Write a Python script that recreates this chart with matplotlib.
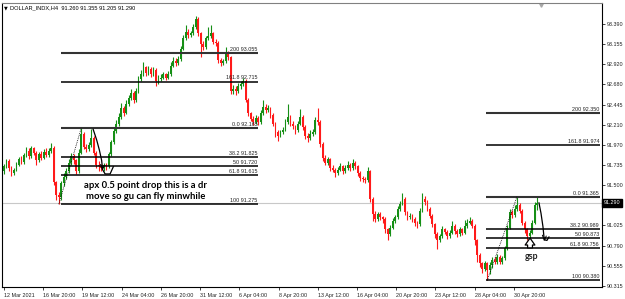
import matplotlib
matplotlib.use('Agg')
import numpy as np
import matplotlib.pyplot as plt

# --- data: DOLLAR_INDX H4 candles ---
first_open = 91.66
closes = [
    91.72, 91.78, 91.70, 91.64, 91.68, 91.74, 91.80, 91.77, 91.85, 91.90,
    91.84, 91.93, 91.88, 91.79, 91.86, 91.82, 91.89, 91.85, 91.90, 91.94,
    91.53, 91.38, 91.36, 91.52, 91.60, 91.66, 91.76, 91.84, 91.79, 91.66,
    91.88, 92.10, 91.95, 91.92, 91.97, 92.05, 91.88, 91.74, 91.72, 91.70,
    91.73, 91.72, 91.86, 92.00, 92.13, 92.22, 92.30, 92.40, 92.35, 92.45,
    92.52, 92.58, 92.50, 92.60, 92.74, 92.80, 92.88, 92.82, 92.86, 92.80,
    92.85, 92.72, 92.75, 92.76, 92.80, 92.76, 92.80, 92.90, 92.96, 92.93,
    92.98, 93.10, 93.22, 93.30, 93.26, 93.28, 93.35, 93.45, 93.28, 93.16,
    93.12, 93.22, 93.25, 93.28, 93.18, 93.17, 92.97, 92.93, 92.95, 93.04,
    93.00, 92.60, 92.63, 92.60, 92.66, 92.68, 92.72, 92.50, 92.34, 92.28,
    92.24, 92.29, 92.24, 92.34, 92.42, 92.38, 92.40, 92.32, 92.22, 92.12,
    92.08, 92.12, 92.15, 92.24, 92.30, 92.22, 92.19, 92.14, 92.22, 92.30,
    92.18, 92.08, 92.05, 92.10, 92.12, 92.26, 92.24, 91.98, 91.82, 91.76,
    91.80, 91.70, 91.68, 91.64, 91.68, 91.72, 91.66, 91.70, 91.74, 91.70,
    91.76, 91.72, 91.64, 91.58, 91.57, 91.56, 91.66, 91.34, 91.16, 91.10,
    91.16, 91.12, 91.10, 90.98, 90.92, 91.00, 91.08, 91.12, 91.22, 91.28,
    91.34, 91.18, 91.12, 91.14, 91.10, 91.06, 91.04, 91.20, 91.34, 91.30,
    91.22, 91.14, 91.04, 90.92, 90.86, 90.90, 90.98, 90.95, 90.90, 90.94,
    91.02, 90.96, 90.92, 90.98, 90.94, 91.02, 91.06, 91.08, 91.02, 90.85,
    90.68, 90.58, 90.52, 90.58, 90.50, 90.56, 90.62, 90.60, 90.66, 90.60,
    90.64, 90.76, 91.00, 91.18, 91.15, 91.22, 91.26, 91.20, 91.06, 90.98,
    90.90, 90.94, 91.06, 91.26, 91.29,
]
highs = [
    91.75, 91.81, 91.80, 91.72, 91.70, 91.77, 91.83, 91.84, 91.88, 91.95,
    91.93, 91.96, 91.95, 91.90, 91.89, 91.90, 91.92, 91.93, 91.94, 91.99,
    91.96, 91.55, 91.42, 91.55, 91.64, 91.70, 91.80, 91.88, 91.87, 91.81,
    91.92, 92.165, 92.12, 91.98, 92.01, 92.16, 92.08, 91.90, 91.78, 91.75,
    91.76, 91.76, 91.89, 92.03, 92.17, 92.26, 92.34, 92.46, 92.43, 92.50,
    92.56, 92.63, 92.60, 92.64, 92.78, 92.85, 92.94, 92.90, 92.90, 92.88,
    92.89, 92.87, 92.79, 92.80, 92.83, 92.82, 92.84, 92.94, 93.00, 92.99,
    93.02, 93.13, 93.26, 93.38, 93.33, 93.31, 93.39, 93.48, 93.47, 93.30,
    93.19, 93.25, 93.36, 93.38, 93.30, 93.21, 93.19, 92.99, 92.98, 93.12,
    93.07, 93.02, 92.67, 92.66, 92.70, 92.72, 92.76, 92.74, 92.52, 92.36,
    92.31, 92.32, 92.31, 92.38, 92.50, 92.45, 92.44, 92.42, 92.34, 92.24,
    92.15, 92.15, 92.18, 92.28, 92.45, 92.32, 92.25, 92.21, 92.25, 92.39,
    92.32, 92.20, 92.11, 92.14, 92.16, 92.30, 92.40, 92.26, 92.00, 91.85,
    91.83, 91.82, 91.73, 91.70, 91.71, 91.76, 91.74, 91.73, 91.78, 91.76,
    91.81, 91.78, 91.74, 91.66, 91.61, 91.59, 91.71, 91.68, 91.36, 91.19,
    91.18, 91.18, 91.14, 91.12, 91.00, 91.03, 91.11, 91.15, 91.25, 91.31,
    91.41, 91.36, 91.20, 91.17, 91.16, 91.12, 91.08, 91.23, 91.41, 91.37,
    91.32, 91.24, 91.16, 91.06, 90.95, 90.93, 91.02, 91.00, 90.97, 90.97,
    91.08, 91.04, 90.98, 91.01, 91.00, 91.09, 91.10, 91.12, 91.10, 91.04,
    90.87, 90.70, 90.60, 90.61, 90.60, 90.60, 90.65, 90.66, 90.69, 90.68,
    90.67, 90.79, 91.03, 91.22, 91.21, 91.26, 91.365, 91.29, 91.22, 91.08,
    91.00, 90.97, 91.09, 91.30, 91.355,
]
lows = [
    91.63, 91.70, 91.67, 91.61, 91.62, 91.66, 91.72, 91.75, 91.75, 91.83,
    91.80, 91.82, 91.85, 91.74, 91.77, 91.79, 91.80, 91.83, 91.83, 91.88,
    91.50, 91.33, 91.275, 91.33, 91.49, 91.57, 91.64, 91.74, 91.75, 91.63,
    91.64, 91.86, 91.92, 91.89, 91.90, 91.95, 91.85, 91.70, 91.66, 91.66,
    91.67, 91.68, 91.70, 91.84, 91.98, 92.11, 92.19, 92.28, 92.31, 92.33,
    92.43, 92.50, 92.46, 92.48, 92.58, 92.72, 92.78, 92.78, 92.79, 92.77,
    92.78, 92.66, 92.69, 92.72, 92.74, 92.73, 92.74, 92.78, 92.88, 92.90,
    92.91, 92.96, 93.08, 93.20, 93.23, 93.24, 93.26, 93.33, 93.25, 93.00,
    93.08, 93.10, 93.20, 93.22, 93.15, 93.13, 92.93, 92.90, 92.91, 92.93,
    92.97, 92.57, 92.57, 92.56, 92.58, 92.63, 92.66, 92.47, 92.31, 92.25,
    92.21, 92.22, 92.20, 92.22, 92.32, 92.35, 92.36, 92.29, 92.19, 92.06,
    92.02, 92.06, 92.10, 92.13, 92.22, 92.19, 92.16, 92.10, 92.12, 92.20,
    92.15, 92.04, 92.00, 92.03, 92.07, 92.10, 92.21, 91.95, 91.78, 91.73,
    91.74, 91.67, 91.65, 91.60, 91.62, 91.66, 91.63, 91.64, 91.68, 91.67,
    91.68, 91.69, 91.61, 91.55, 91.54, 91.52, 91.54, 91.30, 91.08, 91.07,
    91.08, 91.09, 91.06, 90.94, 90.86, 90.90, 90.98, 91.05, 91.10, 91.20,
    91.26, 91.15, 91.09, 91.10, 91.07, 91.02, 91.00, 91.02, 91.18, 91.27,
    91.19, 91.11, 91.01, 90.88, 90.75, 90.83, 90.88, 90.92, 90.87, 90.88,
    90.92, 90.93, 90.89, 90.90, 90.91, 90.92, 91.00, 91.04, 90.99, 90.80,
    90.60, 90.54, 90.47, 90.49, 90.38, 90.46, 90.53, 90.57, 90.57, 90.57,
    90.57, 90.62, 90.74, 90.98, 91.11, 91.12, 91.19, 91.17, 91.03, 90.94,
    90.85, 90.87, 90.92, 91.04, 91.205,
]

time_labels = ['12 Mar 2021', '16 Mar 20:00', '19 Mar 12:00', '24 Mar 04:00',
               '26 Mar 20:00', '31 Mar 12:00', '6 Apr 04:00', '8 Apr 20:00',
               '13 Apr 12:00', '16 Apr 04:00', '20 Apr 20:00', '23 Apr 12:00',
               '28 Apr 04:00', '30 Apr 20:00']
price_ticks = [93.390, 93.155, 92.920, 92.680, 92.445, 92.210, 91.970,
               91.735, 91.500, 91.025, 90.790, 90.555, 90.315]
last_price = 91.290

# fibonacci tools
fib_ratios = ['200', '161.8', '0.0', '38.2', '50', '61.8', '100']
fib1_prices = [93.055, 92.715, 92.165, 91.825, 91.720, 91.615, 91.275]
fib2_prices = [92.350, 91.974, 91.365, 90.989, 90.873, 90.756, 90.380]

closes = np.array(closes)
opens = np.concatenate([[first_open], closes[:-1]])
highs = np.array(highs)
lows = np.array(lows)
idx = np.arange(len(closes))

GREEN = '#168f16'
RED = '#ff1a1a'

fig = plt.figure(figsize=(6.25, 2.99), dpi=100)
ax = fig.add_axes([2 / 625, 12 / 299, 600 / 625, 284 / 299])

# bid line
ax.axhline(last_price, color='#c8c8c8', lw=0.8, zorder=1)

# candles
up = closes >= opens
cols = np.where(up, GREEN, RED)
ax.vlines(idx, lows, highs, colors=cols, lw=0.8, zorder=3)
body = np.maximum(np.abs(closes - opens), 0.006)
ax.bar(idx, body, bottom=np.minimum(opens, closes), width=0.72,
       color=cols, linewidth=0, zorder=3)

# fib levels
lab_font = dict(fontsize=3.9, family='Liberation Sans', color='#222222')
lo1, hi1 = 22, 31
lo2, hi2 = 194, 206
for (start, end, prices) in [(22.9, 102, fib1_prices), (193.5, 239.2, fib2_prices)]:
    for r, p in zip(fib_ratios, prices):
        thick = r in ('0.0', '200')
        ax.hlines(p, start, end, color='#333333' if thick else 'black',
                  lw=1.5 if thick else 1.1, zorder=4)
        ax.text(end - 0.3, p + 0.012, f'{r} {p:.3f}', ha='right', va='bottom', **lab_font)

# dotted trend lines of fib tools
ax.plot([lo1, hi1], [lows[lo1], highs[hi1]], ls=(0, (1, 1.2)), color='black', lw=0.6, zorder=4)
ax.plot([lo2, hi2], [lows[lo2], highs[hi2]], ls=(0, (1, 1.2)), color='black', lw=0.6, zorder=4)

# hand drawn curves
cx1 = [35.8, 37.2, 38.3, 39.2, 39.6, 40.6, 42.6, 43.9]
cy1 = [92.154, 92.03, 91.91, 91.79, 91.68, 91.63, 91.63, 91.715]
ax.plot(cx1, cy1, color='black', lw=0.9, zorder=5)
ax.plot([38.8, 39.5, 40.3], [91.74, 91.68, 91.73], color='black', lw=0.7, zorder=5)
cx2 = [214.8, 215.6, 216.4, 216.8, 217.2, 218.0, 218.8]
cy2 = [91.29, 91.17, 91.01, 90.89, 90.855, 90.85, 90.89]
ax.plot(cx2, cy2, color='black', lw=0.9, zorder=5)
ax.plot([216.2, 216.9, 217.7], [90.91, 90.85, 90.90], color='black', lw=0.7, zorder=5)

# gsp arrow
ax.annotate('', xy=(211.2, 90.91), xytext=(211.2, 90.73),
            arrowprops=dict(arrowstyle='simple,head_width=0.7,head_length=0.5,tail_width=0.35',
                            fc='white', ec='black', lw=0.9), zorder=6)
ax.text(212.0, 90.665, 'gsp', ha='center', va='center', fontsize=6.4,
        family='Lato', fontweight='bold', color='#222222', zorder=6)

ax.text(57, 91.43, 'apx 0.5 point drop this is a dr\nmove so gu can fly minwhile',
        ha='center', va='center', fontsize=6.8, family='Lato', fontweight='bold',
        linespacing=1.15, color='black', zorder=6)

# axes
ax.set_xlim(-0.8, 240.1)
ax.set_ylim(90.3031, 93.6365)
for s in ax.spines.values():
    s.set_color('black')
    s.set_linewidth(0.8)
ax.spines['top'].set_color('#808080')

ax.yaxis.tick_right()
ax.set_yticks(price_ticks)
ax.set_yticklabels([f'{p:.3f}' for p in price_ticks])
ax.tick_params(axis='y', length=2, width=0.6, pad=1.2, labelsize=3.9, colors='#222222')

tick_pos = np.arange(len(time_labels)) * 15.75
ax.set_xticks(tick_pos)
ax.set_xticklabels(time_labels, ha='left')
ax.tick_params(axis='x', length=2.5, width=0.6, pad=1.5, labelsize=3.9, colors='#222222')
for lbl in ax.get_xticklabels() + ax.get_yticklabels():
    lbl.set_family('Liberation Sans')

# current price box
ax.text(1.003, last_price, f'{last_price:.3f}', transform=ax.get_yaxis_transform(),
        ha='left', va='center', fontsize=3.9, family='Liberation Sans', color='white',
        bbox=dict(boxstyle='square,pad=0.25', fc='black', ec='black'), clip_on=False)

# chart shift marker
ax.plot([0.898], [0.992], marker='v', ms=2.5, color='#a8a8a8', transform=ax.transAxes,
        clip_on=False)

# header
fig.text(4 / 625, 1 - 8 / 299, '\u25bc', fontsize=3.5, va='center', color='black')
fig.text(10 / 625, 1 - 8 / 299, 'DOLLAR_INDX,H4  91.260 91.355 91.205 91.290',
         fontsize=4.1, family='Liberation Sans', va='center', color='black')

fig.savefig('out.png', dpi=100)
